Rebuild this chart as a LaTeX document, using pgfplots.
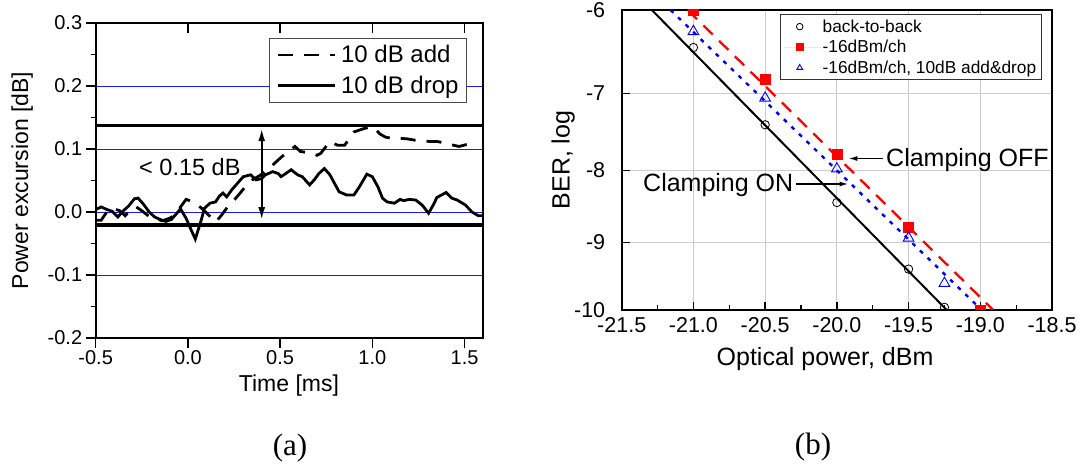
\documentclass[border=0pt]{standalone}
\usepackage{fontspec}
\setmainfont{Liberation Sans}
\newfontfamily\capfont{Liberation Serif}
\usepackage{pgfplots}
\usepackage{pgfplotstable}
\pgfplotsset{compat=1.18}
\usetikzlibrary{arrows.meta}

\newcommand{\fs}[1]{\fontsize{#1}{#1}\selectfont}
% The BER axis is linear in the Q factor: Q^2 = A - ln(2 pi A), A = 2 ln(10) (-log BER)
\newcommand{\qexpr}{-sqrt(2*ln(10)*(-\thisrow{ber}) - ln(4*pi*ln(10)*(-\thisrow{ber})))}

% measured points: log10(BER) versus received optical power
\pgfplotstableread{
p ber
-21.00 -6.44
-20.50 -7.40
-20.00 -8.44
-19.50 -9.39
-19.25 -9.96
}\btob
\pgfplotstableread{
p ber
-21.00 -6.00
-20.50 -6.83
-20.00 -7.78
-19.50 -8.79
-19.00 -10.00
}\chsixteen
\pgfplotstableread{
p ber
-21.00 -6.25
-20.50 -7.06
-20.00 -7.98
-19.50 -8.94
-19.25 -9.60
}\adddrop
% fitted lines
\pgfplotstableread{
p ber
-21.29 -6
-19.234 -10
}\fitbtob
\pgfplotstableread{
p ber
-21.04 -6
-18.91 -10
}\fitch
\pgfplotstableread{
p ber
-21.16 -6
-18.99 -10
}\fitad

\begin{document}
\begin{tikzpicture}[x=1bp,y=1bp]
\useasboundingbox (0,0) rectangle (1085,465);

% ---------------- (a) power excursion ----------------
\begin{axis}[
  at={(95.7bp,127bp)}, anchor=south west,
  scale only axis, width=387.3bp, height=315bp,
  xmin=-0.5, xmax=1.6, ymin=-0.2, ymax=0.3,
  xtick={-0.5,0,0.5,1,1.5}, xticklabels={-0.5,0.0,0.5,1.0,1.5},
  ytick={-0.2,-0.1,0,0.1,0.2,0.3}, yticklabels={-0.2,-0.1,0.0,0.1,0.2,0.3},
  minor y tick num=1,
  xtick pos=bottom, ytick pos=left, tick align=outside,
  major tick length=10bp, minor tick length=5bp,
  tick style={black, line width=1.4bp},
  ymajorgrids, grid style={blue!90, line width=0.9bp},
  axis line style={line width=1.8bp},
  tick label style={font=\fs{20bp}},
  xticklabel style={yshift=1bp},
  xlabel={Time [ms]}, ylabel={Power excursion [dB]},
  label style={font=\fs{23bp}},
  xlabel style={at={(axis description cs:0.499,-0.152)}, anchor=center},
  ylabel style={at={(axis description cs:-0.19,0.5)}, anchor=center},
  legend style={at={(0.9587,0.952)}, anchor=north east, font=\fs{24bp},
    draw=black!70, line width=0.9bp, inner xsep=6bp, inner ysep=5bp, row sep=8bp,
    nodes={inner sep=2bp}, cells={anchor=west}},
  legend image code/.code={\path[draw=none] (-3bp,0bp) -- (61bp,0bp);
    \draw[#1] (0bp,0bp) -- (57bp,0bp);},
]
\addplot[black, line width=2.8bp, dash pattern=on 15bp off 11bp] coordinates {
(-0.50,-0.013) (-0.47,-0.013) (-0.44,0.000) (-0.41,0.006) (-0.37,0.002)
(-0.34,-0.006) (-0.31,0.004) (-0.28,0.008) (-0.25,0.002) (-0.22,-0.005)
(-0.18,-0.010) (-0.14,-0.014) (-0.10,-0.010) (-0.07,-0.005) (-0.04,0.008)
(-0.01,0.020) (0.03,0.016) (0.07,0.007) (0.11,-0.004) (0.15,-0.016)
(0.18,-0.006) (0.21,0.006) (0.26,0.022) (0.30,0.036) (0.33,0.046)
(0.35,0.051) (0.39,0.058) (0.42,0.064) (0.45,0.072) (0.48,0.080)
(0.51,0.088) (0.55,0.097) (0.58,0.104) (0.61,0.096) (0.66,0.094)
(0.70,0.090) (0.72,0.093) (0.77,0.112) (0.81,0.106) (0.85,0.106)
(0.90,0.127) (0.95,0.132) (0.99,0.135) (1.01,0.134) (1.04,0.124)
(1.07,0.119) (1.10,0.117) (1.15,0.117) (1.19,0.116) (1.23,0.114)
(1.27,0.113) (1.31,0.112) (1.35,0.112) (1.40,0.109) (1.44,0.106)
(1.47,0.104) (1.51,0.107) (1.55,0.109)
};
\addlegendentry{10 dB add}
\addplot[black, line width=2.8bp] coordinates {
(-0.50,0.004) (-0.47,0.008) (-0.44,0.004) (-0.41,0.001) (-0.38,-0.008)
(-0.35,0.002) (-0.32,0.010) (-0.29,0.021) (-0.27,0.022) (-0.24,0.012)
(-0.21,0.000) (-0.18,-0.008) (-0.15,-0.012) (-0.12,-0.015) (-0.09,-0.012)
(-0.06,-0.002) (-0.04,0.005) (-0.01,-0.010) (0.02,-0.030) (0.04,-0.043)
(0.07,-0.015) (0.09,0.006) (0.12,0.014) (0.15,0.016) (0.17,0.025)
(0.19,0.030) (0.21,0.024) (0.24,0.036) (0.27,0.046) (0.30,0.056)
(0.34,0.059) (0.37,0.051) (0.40,0.053) (0.42,0.059) (0.46,0.064)
(0.49,0.061) (0.505,0.056) (0.53,0.061) (0.56,0.067) (0.595,0.059)
(0.62,0.056) (0.66,0.043) (0.685,0.051) (0.71,0.061) (0.74,0.069)
(0.77,0.059) (0.79,0.048) (0.82,0.032) (0.86,0.027) (0.90,0.027)
(0.93,0.040) (0.97,0.060) (1.00,0.056) (1.03,0.040) (1.055,0.022)
(1.08,0.016) (1.12,0.014) (1.15,0.020) (1.17,0.018) (1.20,0.020)
(1.235,0.019) (1.27,0.011) (1.305,-0.002) (1.33,0.011) (1.35,0.023)
(1.40,0.031) (1.43,0.022) (1.46,0.019) (1.505,0.011) (1.54,0.000)
(1.575,-0.006) (1.60,-0.006)
};
\addlegendentry{10 dB drop}
% excursion bounds
\addplot[black, line width=3.2bp, forget plot] coordinates {(-0.5,0.137) (1.6,0.137)};
\addplot[black, line width=3.2bp, forget plot] coordinates {(-0.5,-0.0205) (1.6,-0.0205)};
\draw[line width=2.2bp, {Latex[length=13bp,width=7bp]}-{Latex[length=13bp,width=7bp]}]
  (axis cs:0.4,0.133) -- (axis cs:0.4,-0.013);
\end{axis}
% inward ticks along the top edge
\begin{axis}[
  at={(95.7bp,127bp)}, anchor=south west,
  scale only axis, width=387.3bp, height=315bp,
  xmin=-0.5, xmax=1.6, ymin=-0.2, ymax=0.3,
  xtick={0,0.5,1,1.5}, xticklabels={}, ytick=\empty,
  xtick pos=right, tick align=inside, major tick length=10bp,
  tick style={black, line width=1.4bp},
  axis line style={line width=1.8bp},
]
\end{axis}
\node[anchor=base west, inner sep=0, font=\fs{23.5bp}] at (139,289) {< 0.15 dB};
\node[font=\capfont\fs{31bp}] at (290,17) {(a)};

% ---------------- (b) BER ----------------
\begin{axis}[
  at={(621.7bp,155bp)}, anchor=south west,
  scale only axis, width=430.3bp, height=300bp,
  xmin=-21.5, xmax=-18.5, ymin=-6.35485, ymax=-4.74069,
  xtick={-21.5,-21,-20.5,-20,-19.5,-19,-18.5},
  xticklabels={-21.5,-21.0,-20.5,-20.0,-19.5,-19.0,-18.5},
  minor x tick num=1,
  ytick={-6.35485,-5.99035,-5.60330,-5.18922,-4.74069},
  yticklabels={-10,-9,-8,-7,-6},
  xtick pos=bottom, ytick pos=left, tick align=inside,
  major tick length=8bp, minor tick length=5bp,
  tick style={black, line width=1.3bp},
  grid=major, grid style={black!20, line width=0.9bp},
  axis line style={line width=1.7bp},
  tick label style={font=\fs{21.5bp}},
  yticklabel style={xshift=-13bp},
  xticklabel style={yshift=-4bp},
  xlabel={Optical power, dBm}, ylabel={BER, log},
  label style={font=\fs{25bp}},
  xlabel style={at={(axis description cs:0.4725,-0.163)}, anchor=center},
  ylabel style={at={(axis description cs:-0.136,0.5)}, anchor=center},
  clip marker paths=true,
  legend style={at={(0.976,0.986)}, anchor=north east, font=\fs{17.3bp},
    draw=black!80, line width=0.9bp, inner xsep=4bp, inner ysep=4bp, row sep=4.5bp,
    nodes={inner sep=1bp}, cells={anchor=west}},
  legend image code/.code={\path[draw=none] (-15bp,0bp) -- (22bp,0bp);
    \draw[#1, mark size=3.3bp] plot coordinates {(0bp,0bp)};},
]
\addplot[black, line width=2bp, forget plot] table[x=p, y expr={\qexpr}] {\fitbtob};
\addplot[red, line width=2.3bp, dash pattern=on 13bp off 9bp, forget plot] table[x=p, y expr={\qexpr}] {\fitch};
\addplot[blue, line width=2.4bp, dash pattern=on 4bp off 6.5bp, forget plot] table[x=p, y expr={\qexpr}] {\fitad};
\addplot[only marks, mark=o, mark size=4.2bp, black, line width=0.8bp] table[x=p, y expr={\qexpr}] {\btob};
\addlegendentry{back-to-back}
\addplot[only marks, mark=square*, mark size=5bp, red, fill=red] table[x=p, y expr={\qexpr}] {\chsixteen};
\addlegendentry{-16dBm/ch}
\addplot[only marks, mark=triangle, mark size=6.2bp, blue, line width=0.9bp] table[x=p, y expr={\qexpr}] {\adddrop};
\addlegendentry{-16dBm/ch, 10dB add\&drop}
\end{axis}
% annotations
\draw[line width=1.5bp, -{Latex[length=9bp,width=5bp]}] (883,306.5) -- (848.3,306.5);
\node[anchor=base west, inner sep=0, font=\fs{25bp}] at (886,298.3) {Clamping OFF};
\draw[line width=1.5bp, -{Latex[length=9bp,width=5bp]}] (795.5,281) -- (848.5,281);
\node[anchor=base west, inner sep=0, font=\fs{25bp}] at (643,273.3) {Clamping ON};
\node[font=\capfont\fs{31bp}] at (813,18) {(b)};
\end{tikzpicture}
\end{document}
